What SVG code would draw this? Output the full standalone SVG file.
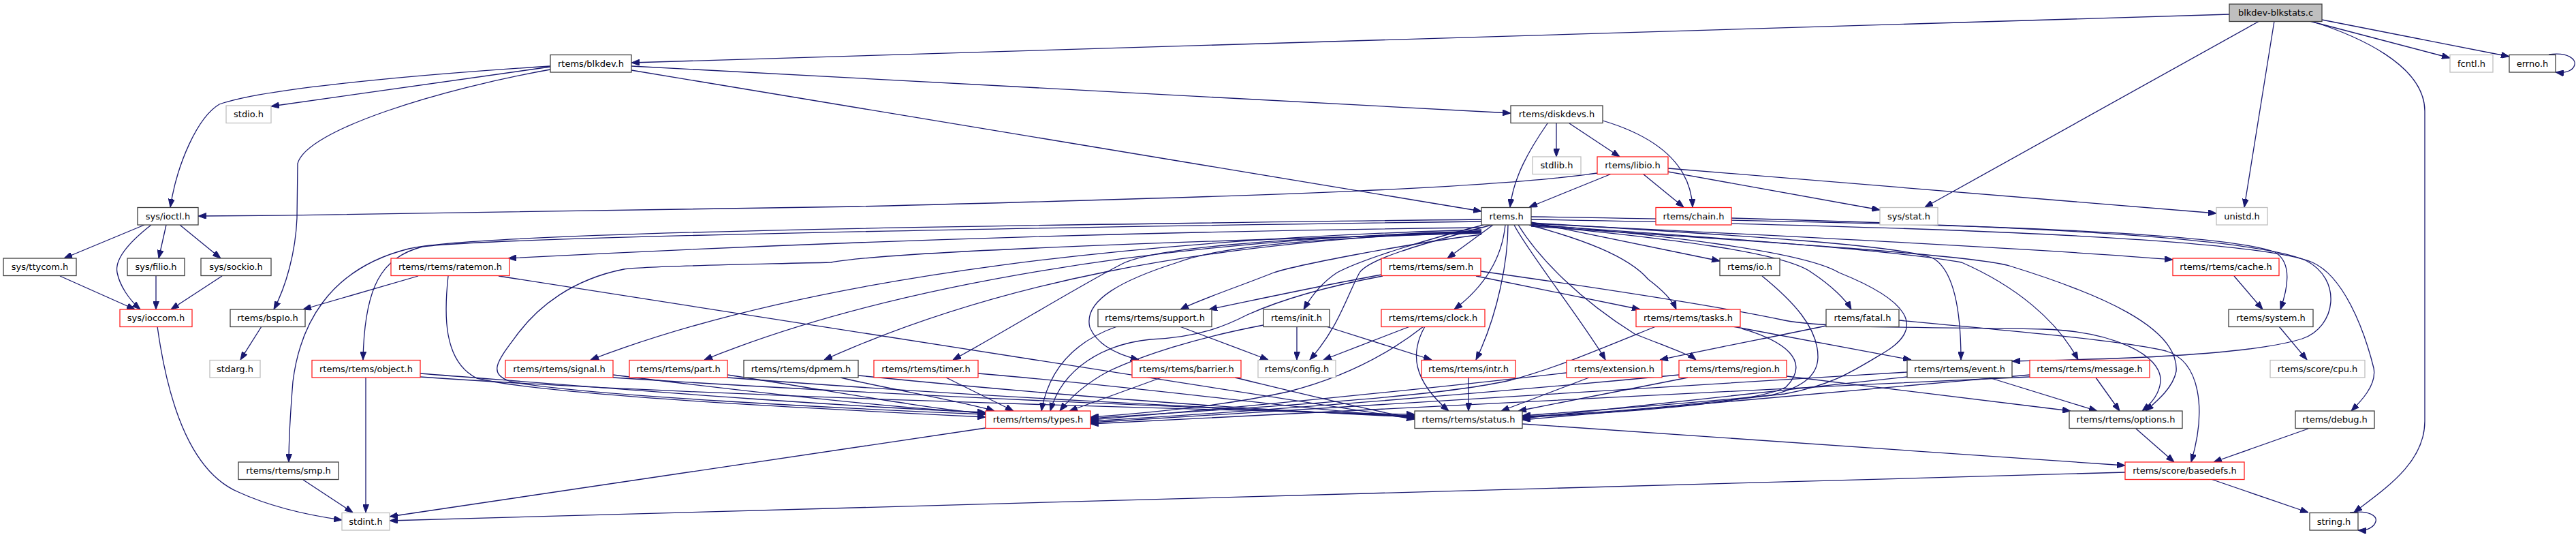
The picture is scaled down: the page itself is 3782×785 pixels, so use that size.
<svg xmlns="http://www.w3.org/2000/svg" width="3782" height="785" viewBox="0 0 3782 785">
<style>
.nd rect{stroke-width:1.3}
.b rect{fill:#fff;stroke:#404040}
.r rect{fill:#fff;stroke:#ff2020}
.g rect{fill:#fff;stroke:#bfbfbf}
.m rect{fill:#bfbfbf;stroke:#404040}
.nd text{font-family:"DejaVu Sans","Noto Sans",sans-serif;font-size:13px;text-anchor:middle;fill:#000}
#edges path{fill:none;stroke:#191970;stroke-width:1.3;marker-end:url(#ah)}
</style>
<defs>
<marker id="ah" viewBox="0 0 12 9" refX="12" refY="4.5" markerWidth="12" markerHeight="9" markerUnits="userSpaceOnUse" orient="auto">
<path d="M0,0 L12,4.5 L0,9 z" fill="#191970" stroke="#191970" stroke-width="1"/>
</marker>
</defs>
<rect x="0" y="0" width="3782" height="785" fill="#fff"/>
<g id="edges">
<path d="M3273,21 L927,92"/>
<path d="M3317,31 L2826,304"/>
<path d="M3339,31 L3295,304"/>
<path d="M3391,31 L3597,85"/>
<path d="M3409,29 L3684,83"/>
<path d="M3393,31 C3460,52 3560,95 3560,163 L3560,618 C3560,680 3500,718 3456,752"/>
<path d="M3742,80 C3772,76 3782,88 3780,95 C3778,103 3768,108 3752,106"/>
<path d="M808,97 C700,104 400,125 322,153 C290,172 260,240 250,304"/>
<path d="M808,98 L398,156"/>
<path d="M808,102 C650,130 450,190 437,240 L436,320 C434,370 420,420 402,454"/>
<path d="M927,103 L2175,310"/>
<path d="M927,97 L2218,166"/>
<path d="M2285,181 L2285,230"/>
<path d="M2304,181 L2378,230"/>
<path d="M2272,181 C2245,220 2222,260 2217,304"/>
<path d="M2353,177 C2430,200 2482,240 2485,304"/>
<path d="M2366,255 L2245,304"/>
<path d="M2412,255 L2472,304"/>
<path d="M2345,254 C2200,275 1900,287 1260,303 C900,311 600,315 291,317"/>
<path d="M2449,252 L2760,308"/>
<path d="M2449,247 L3254,313"/>
<path d="M212,330 L94,379"/>
<path d="M222,330 C190,355 168,380 172,400 C176,420 190,440 206,454"/>
<path d="M244,330 L233,379"/>
<path d="M264,330 L324,379"/>
<path d="M88,405 L198,454"/>
<path d="M229,405 L229,454"/>
<path d="M326,405 L251,454"/>
<path d="M231,479 C245,580 275,690 350,722 C400,745 460,757 502,763"/>
<path d="M384,479 L353,528"/>
<path d="M614,405 L445,454"/>
<path d="M658,405 C652,460 650,530 700,555 C800,580 1200,600 1447,612"/>
<path d="M732,405 L2077,615"/>
<path d="M2175,334 C1800,338 1300,350 746,379"/>
<path d="M2175,322 C1500,330 700,340 600,365 C480,395 440,480 430,560 C426,610 424,650 424,678"/>
<path d="M2175,325 C1500,334 720,348 620,362 C560,378 535,420 533,528"/>
<path d="M2175,342 C1700,355 1300,370 1220,385 C1100,388 950,390 916,395 C840,410 790,450 760,490 C730,530 715,548 750,560 C850,580 1250,600 1447,608"/>
<path d="M2175,337 C1700,350 1200,400 867,528"/>
<path d="M2175,339 C1700,352 1300,420 1034,528"/>
<path d="M2175,339 C1750,355 1450,420 1210,528"/>
<path d="M2175,340 C1850,350 1700,365 1652,385 C1600,410 1470,490 1399,528"/>
<path d="M2175,341 C1900,350 1780,365 1729,385 C1650,410 1590,440 1600,480 C1610,505 1640,520 1672,528"/>
<path d="M2175,344 C2050,360 1900,390 1870,400 C1820,420 1760,440 1733,454"/>
<path d="M2178,330 C2100,350 2000,380 1963,400 C1940,415 1925,435 1914,454"/>
<path d="M2190,330 C2080,360 2010,380 1996,400 C1975,440 1965,480 1923,528"/>
<path d="M2192,330 L2125,379"/>
<path d="M2210,330 C2205,380 2180,420 2135,454"/>
<path d="M2214,330 C2214,380 2200,460 2167,528"/>
<path d="M2223,330 C2240,365 2330,480 2357,528"/>
<path d="M2229,330 C2260,380 2320,440 2400,490 C2450,510 2480,520 2490,528"/>
<path d="M2245,330 C2320,350 2390,375 2420,410 C2440,425 2455,440 2461,454"/>
<path d="M2248,326 L2525,383"/>
<path d="M2248,330 C2450,350 2620,370 2660,400 C2690,420 2710,440 2718,454"/>
<path d="M2248,329 C2450,345 2650,370 2700,400 C2800,440 2830,480 2765,518 C2720,545 2690,565 2620,578 C2450,595 2300,605 2235,610"/>
<path d="M2248,327 C2550,345 2800,360 2840,380 C2870,400 2879,460 2879,528"/>
<path d="M2248,330 C2550,350 2800,370 2880,385 C2960,420 3020,470 3051,528"/>
<path d="M2248,332 C2600,355 2900,375 2950,390 C3080,430 3200,480 3195,545 C3190,570 3165,590 3150,603"/>
<path d="M2248,328 C2600,345 3000,365 3190,381"/>
<path d="M2248,318 C2700,325 3250,335 3340,370 C3365,385 3360,420 3348,454"/>
<path d="M2248,322 C2700,330 3300,345 3395,385 C3440,405 3470,480 3485,540 C3490,565 3465,590 3452,603"/>
<path d="M2542,320 C2900,330 3300,345 3385,382 C3440,410 3430,480 3380,497 C3300,522 3100,527 2954,530"/>
<path d="M2029,403 C1960,415 1900,428 1775,454"/>
<path d="M2030,405 C1950,420 1880,440 1831,462 C1800,478 1760,495 1689,498 C1620,505 1560,540 1542,603"/>
<path d="M2167,405 L2408,454"/>
<path d="M2174,398 C2400,430 2550,455 2620,470 C2680,483 2900,480 3000,483 C3100,486 3175,520 3172,560 C3170,580 3155,595 3145,603"/>
<path d="M2788,470 C2950,485 3120,500 3180,515 C3230,530 3240,600 3217,678"/>
<path d="M2681,478 C2600,495 2520,510 2437,528"/>
<path d="M1904,479 L1904,528"/>
<path d="M1947,479 L2102,528"/>
<path d="M1855,477 C1760,495 1680,520 1627,545 C1590,565 1570,585 1556,603"/>
<path d="M1640,479 C1580,500 1540,540 1529,603"/>
<path d="M1732,479 L1862,528"/>
<path d="M2070,479 L1943,528"/>
<path d="M2090,479 C2053,508 1990,550 1890,575 C1800,595 1700,605 1601,612"/>
<path d="M2092,479 C2070,518 2074,558 2127,603"/>
<path d="M2431,479 C2330,520 2278,542 2217,558 C2100,585 1800,600 1601,614"/>
<path d="M2544,479 L2806,528"/>
<path d="M2557,482 C2620,500 2660,530 2622,568 C2580,590 2400,605 2235,612"/>
<path d="M2156,554 L2156,603"/>
<path d="M2300,547 C2100,570 1800,600 1601,616"/>
<path d="M2333,554 L2204,603"/>
<path d="M2465,550 C2200,575 1900,600 1601,618"/>
<path d="M2478,554 L2229,603"/>
<path d="M2623,552 L3040,603"/>
<path d="M2800,546 C2400,570 2000,595 1601,620"/>
<path d="M2800,553 C2600,575 2350,600 2235,614"/>
<path d="M2920,554 L3079,603"/>
<path d="M2980,553 C2500,575 2000,600 1601,622"/>
<path d="M2980,550 C2700,575 2400,600 2235,616"/>
<path d="M3077,554 L3112,603"/>
<path d="M2587,405 C2630,440 2670,480 2669,525 C2668,555 2640,570 2600,580 C2450,598 2320,608 2235,611"/>
<path d="M617,548 C900,570 1200,595 1447,605"/>
<path d="M617,553 C1000,580 1700,600 2077,608"/>
<path d="M537,554 L537,752"/>
<path d="M900,550 C1100,575 1300,598 1447,606"/>
<path d="M900,554 C1300,580 1800,600 2077,610"/>
<path d="M1068,550 C1200,570 1350,598 1447,607"/>
<path d="M1068,554 C1400,580 1800,600 2077,611"/>
<path d="M1234,554 C1300,570 1420,590 1460,603"/>
<path d="M1260,551 C1500,575 1800,600 2077,612"/>
<path d="M1389,554 L1488,603"/>
<path d="M1436,548 C1700,570 1900,600 2077,613"/>
<path d="M1705,554 L1570,603"/>
<path d="M1813,554 C1900,575 2000,600 2077,614"/>
<path d="M445,704 L518,752"/>
<path d="M1447,628 L572,758"/>
<path d="M3120,693 L572,764"/>
<path d="M3246,703 L3389,752"/>
<path d="M2235,622 L3120,683"/>
<path d="M3136,629 L3192,678"/>
<path d="M3389,629 L3250,678"/>
<path d="M3346,479 L3387,528"/>
<path d="M3280,405 L3322,454"/>
<path d="M3450,752 C3480,748 3490,758 3488,765 C3486,773 3476,779 3462,778"/>
</g>
<g id="n_main" class="nd m"><rect x="3273" y="6" width="136" height="25.5"/><text x="3341" y="23">blkdev-blkstats.c</text></g>
<g id="n_blkdev" class="nd b"><rect x="808" y="80.5" width="119" height="25.5"/><text x="867.5" y="97.5">rtems/blkdev.h</text></g>
<g id="n_fcntl" class="nd g"><rect x="3597" y="80.5" width="63" height="25.5"/><text x="3628.5" y="97.5">fcntl.h</text></g>
<g id="n_errno" class="nd b"><rect x="3684" y="80.5" width="68" height="25.5"/><text x="3718" y="97.5">errno.h</text></g>
<g id="n_stdio" class="nd g"><rect x="332" y="155" width="66" height="25.5"/><text x="365" y="172">stdio.h</text></g>
<g id="n_diskdevs" class="nd b"><rect x="2218" y="155" width="135" height="25.5"/><text x="2285.5" y="172">rtems/diskdevs.h</text></g>
<g id="n_stdlib" class="nd g"><rect x="2250" y="230" width="71" height="25.5"/><text x="2285.5" y="247">stdlib.h</text></g>
<g id="n_libio" class="nd r"><rect x="2345" y="230" width="104" height="25.5"/><text x="2397" y="247">rtems/libio.h</text></g>
<g id="n_ioctl" class="nd b"><rect x="202" y="304.5" width="89" height="25.5"/><text x="246.5" y="321.5">sys/ioctl.h</text></g>
<g id="n_rtems" class="nd b"><rect x="2175" y="304.5" width="73" height="25.5"/><text x="2211.5" y="321.5">rtems.h</text></g>
<g id="n_chain" class="nd r"><rect x="2431" y="304.5" width="111" height="25.5"/><text x="2486.5" y="321.5">rtems/chain.h</text></g>
<g id="n_stat" class="nd g"><rect x="2760" y="304.5" width="85" height="25.5"/><text x="2802.5" y="321.5">sys/stat.h</text></g>
<g id="n_unistd" class="nd g"><rect x="3254" y="304.5" width="75" height="25.5"/><text x="3291.5" y="321.5">unistd.h</text></g>
<g id="n_ttycom" class="nd b"><rect x="5" y="379" width="107" height="25.5"/><text x="58.5" y="396">sys/ttycom.h</text></g>
<g id="n_filio" class="nd b"><rect x="187" y="379" width="84" height="25.5"/><text x="229" y="396">sys/filio.h</text></g>
<g id="n_sockio" class="nd b"><rect x="295" y="379" width="103" height="25.5"/><text x="346.5" y="396">sys/sockio.h</text></g>
<g id="n_ratemon" class="nd r"><rect x="574" y="379" width="174" height="25.5"/><text x="661" y="396">rtems/rtems/ratemon.h</text></g>
<g id="n_sem" class="nd r"><rect x="2028" y="379" width="146" height="25.5"/><text x="2101" y="396">rtems/rtems/sem.h</text></g>
<g id="n_io" class="nd b"><rect x="2525" y="379" width="88" height="25.5"/><text x="2569" y="396">rtems/io.h</text></g>
<g id="n_cache" class="nd r"><rect x="3190" y="379" width="156" height="25.5"/><text x="3268" y="396">rtems/rtems/cache.h</text></g>
<g id="n_ioccom" class="nd r"><rect x="176" y="454" width="106" height="25.5"/><text x="229" y="471">sys/ioccom.h</text></g>
<g id="n_bspio" class="nd b"><rect x="338" y="454" width="110" height="25.5"/><text x="393" y="471">rtems/bspIo.h</text></g>
<g id="n_support" class="nd b"><rect x="1612" y="454" width="167" height="25.5"/><text x="1695.5" y="471">rtems/rtems/support.h</text></g>
<g id="n_init" class="nd b"><rect x="1855" y="454" width="97" height="25.5"/><text x="1903.5" y="471">rtems/init.h</text></g>
<g id="n_clock" class="nd r"><rect x="2028" y="454" width="152" height="25.5"/><text x="2104" y="471">rtems/rtems/clock.h</text></g>
<g id="n_tasks" class="nd r"><rect x="2402" y="454" width="153" height="25.5"/><text x="2478.5" y="471">rtems/rtems/tasks.h</text></g>
<g id="n_fatal" class="nd b"><rect x="2681" y="454" width="107" height="25.5"/><text x="2734.5" y="471">rtems/fatal.h</text></g>
<g id="n_system" class="nd b"><rect x="3272" y="454" width="124" height="25.5"/><text x="3334" y="471">rtems/system.h</text></g>
<g id="n_stdarg" class="nd g"><rect x="308" y="528.5" width="74" height="25.5"/><text x="345" y="545.5">stdarg.h</text></g>
<g id="n_object" class="nd r"><rect x="458" y="528.5" width="159" height="25.5"/><text x="537.5" y="545.5">rtems/rtems/object.h</text></g>
<g id="n_signal" class="nd r"><rect x="742" y="528.5" width="158" height="25.5"/><text x="821" y="545.5">rtems/rtems/signal.h</text></g>
<g id="n_part" class="nd r"><rect x="924" y="528.5" width="144" height="25.5"/><text x="996" y="545.5">rtems/rtems/part.h</text></g>
<g id="n_dpmem" class="nd b"><rect x="1092" y="528.5" width="168" height="25.5"/><text x="1176" y="545.5">rtems/rtems/dpmem.h</text></g>
<g id="n_timer" class="nd r"><rect x="1283" y="528.5" width="153" height="25.5"/><text x="1359.5" y="545.5">rtems/rtems/timer.h</text></g>
<g id="n_barrier" class="nd r"><rect x="1662" y="528.5" width="160" height="25.5"/><text x="1742" y="545.5">rtems/rtems/barrier.h</text></g>
<g id="n_config" class="nd g"><rect x="1847" y="528.5" width="114" height="25.5"/><text x="1904" y="545.5">rtems/config.h</text></g>
<g id="n_intr" class="nd r"><rect x="2087" y="528.5" width="138" height="25.5"/><text x="2156" y="545.5">rtems/rtems/intr.h</text></g>
<g id="n_extension" class="nd r"><rect x="2300" y="528.5" width="140" height="25.5"/><text x="2370" y="545.5">rtems/extension.h</text></g>
<g id="n_region" class="nd r"><rect x="2465" y="528.5" width="158" height="25.5"/><text x="2544" y="545.5">rtems/rtems/region.h</text></g>
<g id="n_event" class="nd b"><rect x="2800" y="528.5" width="154" height="25.5"/><text x="2877" y="545.5">rtems/rtems/event.h</text></g>
<g id="n_message" class="nd r"><rect x="2980" y="528.5" width="176" height="25.5"/><text x="3068" y="545.5">rtems/rtems/message.h</text></g>
<g id="n_cpu" class="nd g"><rect x="3333" y="528.5" width="139" height="25.5"/><text x="3402.5" y="545.5">rtems/score/cpu.h</text></g>
<g id="n_types" class="nd r"><rect x="1447" y="603" width="154" height="25.5"/><text x="1524" y="620">rtems/rtems/types.h</text></g>
<g id="n_status" class="nd b"><rect x="2077" y="603" width="158" height="25.5"/><text x="2156" y="620">rtems/rtems/status.h</text></g>
<g id="n_options" class="nd b"><rect x="3038" y="603" width="166" height="25.5"/><text x="3121" y="620">rtems/rtems/options.h</text></g>
<g id="n_debug" class="nd b"><rect x="3370" y="603" width="116" height="25.5"/><text x="3428" y="620">rtems/debug.h</text></g>
<g id="n_smp" class="nd b"><rect x="350" y="678" width="147" height="25.5"/><text x="423.5" y="695">rtems/rtems/smp.h</text></g>
<g id="n_basedefs" class="nd r"><rect x="3120" y="678" width="175" height="25.5"/><text x="3207.5" y="695">rtems/score/basedefs.h</text></g>
<g id="n_stdint" class="nd g"><rect x="502" y="752.5" width="70" height="25.5"/><text x="537" y="769.5">stdint.h</text></g>
<g id="n_string" class="nd b"><rect x="3391" y="752.5" width="71" height="25.5"/><text x="3426.5" y="769.5">string.h</text></g>
</svg>
